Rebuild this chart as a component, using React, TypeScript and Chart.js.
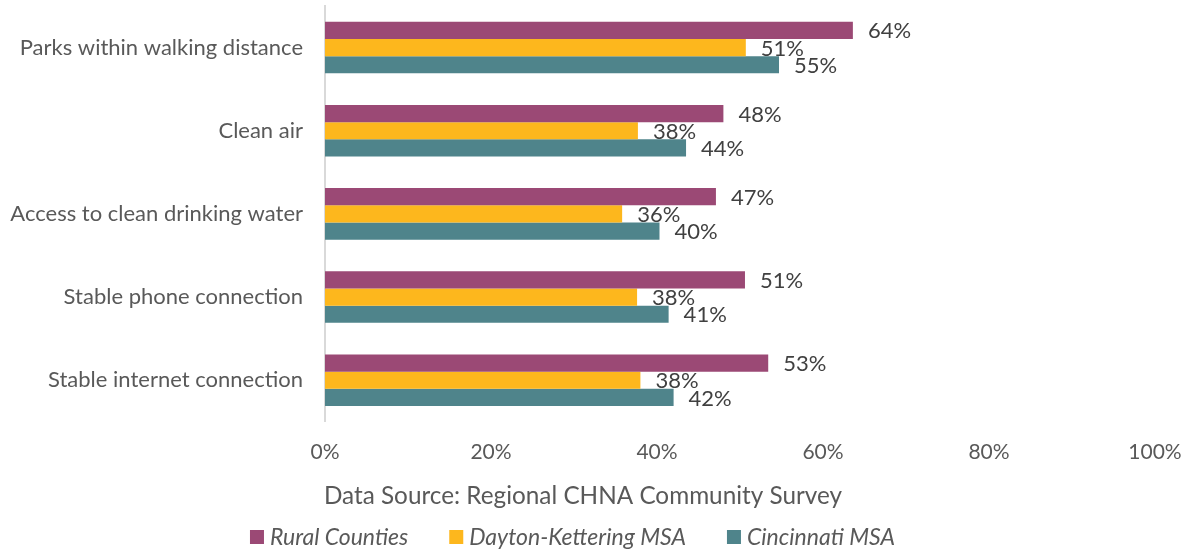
import React, { useEffect, useRef } from "react";
import { Chart, registerables } from "chart.js";

Chart.register(...registerables);

const categories = [
  "Parks within walking distance",
  "Clean air",
  "Access to clean drinking water",
  "Stable phone connection",
  "Stable internet connection",
];
const ruralCounties = [0.636, 0.48, 0.471, 0.506, 0.534];
const daytonKettering = [0.507, 0.377, 0.358, 0.376, 0.38];
const cincinnati = [0.547, 0.435, 0.403, 0.414, 0.42];
const xTicks = [0, 0.2, 0.4, 0.6, 0.8, 1.0];
const sourceTitle = "Data Source: Regional CHNA Community Survey";

const FONT = "Lato, 'Open Sans', sans-serif";

const dataLabelPlugin = {
  id: "dataLabels",
  afterDatasetsDraw(chart: any) {
    const ctx = chart.ctx;
    ctx.save();
    ctx.font = `22px ${FONT}`;
    ctx.fillStyle = "#404040";
    ctx.textAlign = "left";
    ctx.textBaseline = "middle";
    chart.data.datasets.forEach((ds: any, i: number) => {
      const meta = chart.getDatasetMeta(i);
      meta.data.forEach((el: any, j: number) => {
        const v = ds.data[j];
        ctx.fillText(Math.round(v * 100) + "%", el.x + 15, el.y + 1);
      });
    });
    ctx.restore();
  },
};

// Bottom title + legend drawn in the space reserved by layout padding
const footerPlugin = {
  id: "footer",
  afterDraw(chart: any) {
    const ctx = chart.ctx;
    const W = chart.width;
    const H = chart.height;
    ctx.save();
    ctx.font = `24.3px ${FONT}`;
    ctx.fillStyle = "#595959";
    ctx.textAlign = "center";
    ctx.textBaseline = "middle";
    ctx.fillText(sourceTitle, W / 2 - 13, H - 57);

    const box = 14;
    const gapBoxText = 6;
    const gapItems = 41;
    ctx.font = `italic 23px ${FONT}`;
    const items = chart.data.datasets.map((ds: any) => ({
      text: ds.label,
      color: ds.backgroundColor,
      w: ctx.measureText(ds.label).width,
    }));
    const total =
      items.reduce((s: number, it: any) => s + box + gapBoxText + it.w, 0) +
      gapItems * (items.length - 1);
    let x = W / 2 - 23.5 - total / 2;
    const cy = H - 16;
    ctx.textAlign = "left";
    items.forEach((it: any) => {
      ctx.fillStyle = it.color;
      ctx.fillRect(x, cy - box / 2, box, box);
      x += box + gapBoxText;
      ctx.fillStyle = "#595959";
      ctx.fillText(it.text, x, cy + 1);
      x += it.w + gapItems;
    });
    ctx.restore();
  },
};

export default function App() {
  const ref = useRef<HTMLCanvasElement>(null);
  useEffect(() => {
    document.body.style.margin = "0";
    const chart = new Chart(ref.current!, {
      type: "bar",
      data: {
        labels: categories,
        datasets: [
          { label: "Rural Counties", data: ruralCounties, backgroundColor: "#9B4975" },
          { label: "Dayton-Kettering MSA", data: daytonKettering, backgroundColor: "#FDB71D" },
          { label: "Cincinnati MSA", data: cincinnati, backgroundColor: "#4F848B" },
        ],
      },
      options: {
        indexAxis: "y",
        animation: false,
        responsive: false,
        maintainAspectRatio: false,
        layout: { padding: { left: 0, right: 37, top: 6, bottom: 70 } },
        datasets: {
          bar: { categoryPercentage: 0.62, barPercentage: 1.0 },
        },
        scales: {
          x: {
            min: 0,
            max: 1,
            afterBuildTicks(scale: any) {
              scale.ticks = xTicks.map((v) => ({ value: v }));
            },
            afterFit(scale: any) {
              scale.paddingLeft = 0;
              scale.paddingRight = 0;
            },
            grid: { display: false, drawTicks: false },
            border: { display: false },
            ticks: {
              padding: 18,
              color: "#595959",
              font: { family: FONT, size: 21 },
              callback: (v: any) => Math.round(Number(v) * 100) + "%",
            },
          },
          y: {
            grid: { display: false, drawTicks: false },
            border: { display: true, color: "#D9D9D9", width: 2 },
            afterFit(scale: any) {
              scale.width = 325;
              scale.paddingTop = 0;
              scale.paddingBottom = 0;
            },
            ticks: {
              padding: 22,
              color: "#595959",
              font: { family: FONT, size: 22 },
            },
          },
        },
        plugins: {
          legend: { display: false },
          title: { display: false },
          tooltip: { enabled: false },
        },
      },
      plugins: [dataLabelPlugin, footerPlugin],
    });
    return () => chart.destroy();
  }, []);
  return (
    <div style={{ width: 1192, height: 553 }}>
      <canvas ref={ref} width={1192} height={553} style={{ display: "block" }} />
    </div>
  );
}
